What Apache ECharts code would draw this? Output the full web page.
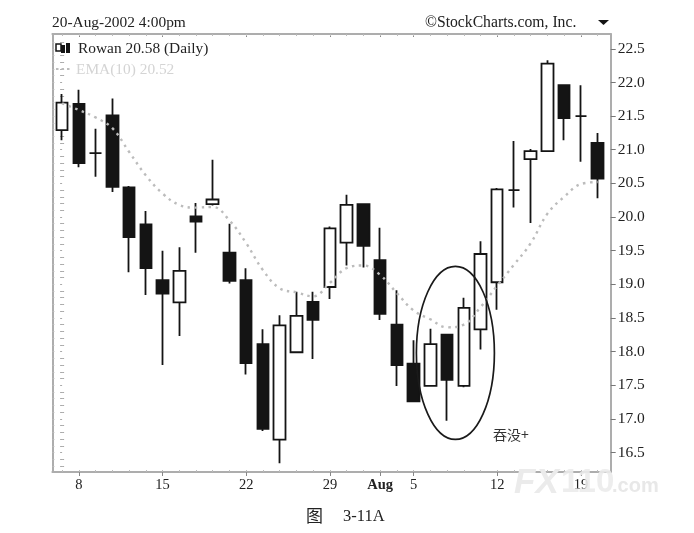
<!DOCTYPE html>
<html><head><meta charset="utf-8">
<style>html,body{margin:0;padding:0;background:#fff}#c{width:694px;height:533px}</style>
<script src="https://cdn.jsdelivr.net/npm/echarts@6/dist/echarts.min.js"></script>
</head><body><div id="c"></div>
<script>
// [open, close, low, high]
const candles = [
[21.29,21.70,21.14,21.83],[21.68,20.80,20.74,21.89],[20.95,20.95,20.60,21.31],[21.51,20.45,20.37,21.76],
[20.44,19.70,19.18,20.46],[19.89,19.24,18.84,20.09],[19.06,18.86,17.80,19.50],[18.73,19.20,18.23,19.55],
[20.01,19.93,19.47,20.21],[20.19,20.26,20.17,20.85],[19.47,19.05,19.01,19.90],[19.06,17.83,17.66,19.24],
[18.11,16.85,16.82,18.33],[16.69,18.39,16.34,18.54],[17.99,18.53,17.99,18.89],[18.74,18.47,17.89,18.89],
[18.96,19.83,18.78,19.86],[19.62,20.18,19.28,20.33],[20.19,19.57,19.25,20.19],[19.36,18.56,18.47,19.84],
[18.40,17.80,17.49,18.91],[17.82,17.26,17.26,18.17],[17.49,18.11,17.49,18.34],[18.25,17.58,16.97,18.25],
[17.49,18.65,17.47,18.80],[18.33,19.45,18.03,19.64],[19.03,20.41,18.62,20.43],[20.40,20.40,20.14,21.13],
[20.86,20.98,19.91,21.01],[20.98,22.28,20.98,22.33],[21.96,21.47,21.14,21.96],[21.50,21.50,20.82,21.96],
[21.10,20.57,20.28,21.25]];
const ema = [21.69,21.59,21.48,21.32,20.97,20.62,20.35,20.18,20.14,20.15,19.95,19.61,19.21,18.94,18.88,18.82,
19.02,19.24,19.28,19.14,18.87,18.61,18.48,18.36,18.40,18.66,18.98,19.29,19.61,20.05,20.30,20.49,20.52];
const xTickIdx = [1,6,11,16,19,21,26,31];
const xTickLabels = ['8','15','22','29','Aug','5','12','19'];
const yTicks = [16.5,17,17.5,18,18.5,19,19.5,20,20.5,21,21.5,22,22.5];
const yMinor = [16.3,16.4,16.6,16.7,16.8,16.9,17.1,17.2,17.3,17.4,17.6,17.7,17.8,17.9,18.1,18.2,18.3,18.4,18.6,18.7,18.8,18.9,19.1,19.2,19.3,19.4,19.6,19.7,19.8,19.9,20.1,20.2,20.3,20.4,20.6,20.7,20.8,20.9,21.1,21.2,21.3,21.4,21.6,21.7,21.8,21.9,22.1,22.2,22.3,22.4,22.6];
const xMinor = candles.map((_, i) => i);
const circled = {x: 23.5, y: 17.98};

const serif = '"Liberation Serif","DejaVu Serif",serif';
const frame = '#adadad';
const base = {min:-0.58, max:32.78, type:'value', splitLine:{show:false}};
const ybase = {min:16.21, max:22.72, type:'value', splitLine:{show:false}};
const line = {show:true, onZero:false, lineStyle:{color:frame, width:2}};
const chart = echarts.init(document.getElementById('c'), null, {renderer:'canvas'});
chart.setOption({
  animation:false, backgroundColor:'#fff',
  grid:{left:52.4, top:34, width:558.3, height:438, containLabel:false},
  xAxis:[
    {...base, position:'bottom', axisLine:line,
     axisTick:{show:true, customValues:xTickIdx, length:4, inside:false, lineStyle:{color:'#888', width:1}},
     axisLabel:{show:true, customValues:xTickIdx, margin:6, color:'#222', fontFamily:serif, fontSize:14.5,
       formatter:(v)=>{const l=xTickLabels[xTickIdx.indexOf(v)]; return l==='Aug'?'{b|Aug}':l;},
       rich:{b:{fontWeight:'bold', fontFamily:serif, fontSize:14.5, color:'#222'}}}},
    {...base, position:'top', axisLine:line,
     axisTick:{show:true, customValues:xTickIdx, length:3, inside:true, lineStyle:{color:'#888'}}, axisLabel:{show:false}},
    {...base, position:'top', axisLine:{show:false},
     axisTick:{show:true, customValues:xMinor, length:2, inside:true, lineStyle:{color:'#bbb'}}, axisLabel:{show:false}},
    {...base, position:'bottom', axisLine:{show:false},
     axisTick:{show:true, customValues:xMinor, length:2, inside:true, lineStyle:{color:'#bbb'}}, axisLabel:{show:false}}
  ],
  yAxis:[
    {...ybase, position:'right', axisLine:line,
     axisTick:{show:true, customValues:yTicks, length:5, lineStyle:{color:'#777'}},
     axisLabel:{show:true, customValues:yTicks, margin:7, color:'#222', fontFamily:serif, fontSize:15.5,
       formatter:(v)=>v.toFixed(1)}},
    {...ybase, position:'left', axisLine:line,
     axisTick:{show:true, customValues:yMinor.concat(yTicks), length:2, inside:true, lineStyle:{color:'#bbb'}}, axisLabel:{show:false}},
    {...ybase, position:'right', axisLine:{show:false},
     axisTick:{show:true, customValues:yMinor, length:2, lineStyle:{color:'#aaa'}}, axisLabel:{show:false}},
    {...ybase, position:'right', axisLine:{show:false},
     axisTick:{show:true, customValues:yTicks.concat(yMinor), length:2, inside:true, lineStyle:{color:'#aaa'}}, axisLabel:{show:false}}
  ],
  series:[
    {type:'line', name:'EMA(10)', data:ema.map((v,i)=>[i,v]), smooth:0.4, symbol:'none', z:5, silent:true,
     lineStyle:{color:'#bcbcbc', width:2.4, type:[2.5,4.5]}},
    {type:'candlestick', name:'Rowan', data:candles.map((c,i)=>[i,c[0],c[1],c[2],c[3]]),
     encode:{x:0,y:[1,2,3,4]}, barWidth:12, z:3,
     itemStyle:{color:'#ffffff', color0:'#141414', borderColor:'#141414', borderColor0:'#141414', borderWidth:1.8, borderColorDoji:'#141414'}},
    {type:'custom', name:'circle', silent:true, z:6, data:[[circled.x, circled.y]], clip:false,
     renderItem:(p,api)=>{const pt=api.coord([api.value(0),api.value(1)]);
       return {type:'ellipse', shape:{cx:pt[0],cy:pt[1],rx:39,ry:86.5}, style:{fill:null,stroke:'#1a1a1a',lineWidth:1.7}};}}
  ],
  graphic:[
    {type:'text', left:52, top:15, z:10, style:{text:'20-Aug-2002 4:00pm', font:'15.4px '+serif, fill:'#222'}},
    {type:'text', left:425, top:15, z:10, style:{text:'©StockCharts.com, Inc.', font:'15.7px '+serif, fill:'#222'}},
    {type:'polygon', z:10, shape:{points:[[598,20],[609,20],[603.5,25]]}, style:{fill:'#141414'}},
    {type:'text', left:78, top:41, z:10, style:{text:'Rowan 20.58 (Daily)', font:'15.4px '+serif, fill:'#222'}},
    {type:'text', left:76, top:62, z:10, style:{text:'EMA(10) 20.52', font:'15.4px '+serif, fill:'#d4d4d4'}},
    {type:'line', z:10, shape:{x1:56,y1:69,x2:72,y2:69}, style:{stroke:'#bcbcbc', lineWidth:2, lineDash:[2.5,3]}},
    {type:'rect', z:10, shape:{x:56,y:44,width:5,height:7}, style:{fill:'#fff',stroke:'#141414',lineWidth:1.5}},
    {type:'rect', z:10, shape:{x:61,y:45,width:4,height:8}, style:{fill:'#141414'}},
    {type:'rect', z:10, shape:{x:66,y:43,width:4,height:10}, style:{fill:'#141414'}},
    {type:'text', left:493, top:428, z:10, style:{text:'吞没+', font:'14px "Noto Sans CJK SC"', fill:'#333'}},
    {type:'text', left:306, top:507, z:10, style:{text:'图', font:'17px "Noto Sans CJK SC"', fill:'#222'}},
    {type:'text', left:343, top:508, z:10, style:{text:'3-11A', font:'16.5px '+serif, fill:'#222'}},
    {type:'text', left:514, top:466, z:12, style:{text:'FX', font:'italic bold 35px "Liberation Sans"', fill:'#ebebeb'}},
    {type:'text', left:561, top:466, z:12, style:{text:'110', font:'bold 33px "Liberation Sans"', fill:'#ebebeb', opacity:0.9}},
    {type:'text', left:612, top:476, z:12, style:{text:'.com', font:'bold 20px "Liberation Sans"', fill:'#e8e8e8'}}
  ]
});
</script></body></html>
